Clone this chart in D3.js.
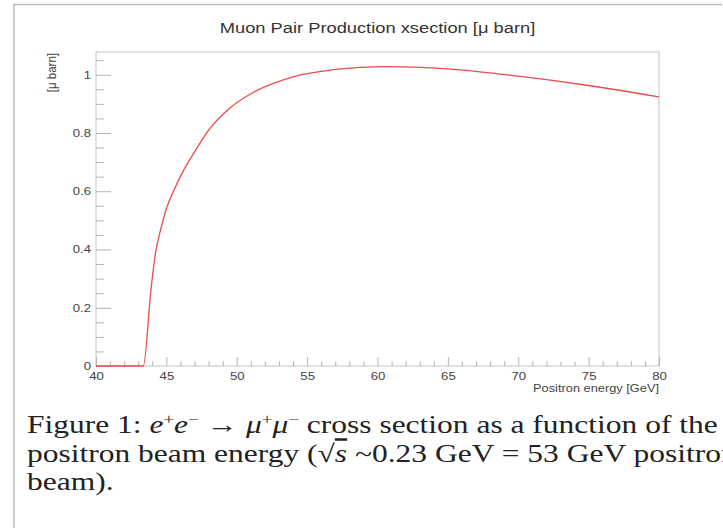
<!DOCTYPE html>
<html>
<head>
<meta charset="utf-8">
<script src="https://cdn.jsdelivr.net/npm/d3@7"></script>
<style>
  body { margin: 0; background: #fff; }
  svg { display: block; }
</style>
</head>
<body>
<div id="chart"></div>
<script>
// values
const energy  = [40, 43.36, 43.9, 44.2, 44.6, 45.0, 45.6, 46.2, 47.0, 48.0, 49.5, 51.2, 52.6, 54, 57, 60.5, 65, 70, 75, 80];
const xsec    = [0, 0, 0.26, 0.38, 0.47, 0.54, 0.61, 0.67, 0.735, 0.81, 0.885, 0.94, 0.97, 0.993, 1.018, 1.028, 1.02, 0.995, 0.963, 0.924];
const xTicks  = [40, 45, 50, 55, 60, 65, 70, 75, 80];
const yTicks  = [0, 0.2, 0.4, 0.6, 0.8, 1];
const yTickLabels = ["0", "0.2", "0.4", "0.6", "0.8", "1"];

const data = energy.map((e, i) => ({e: e, s: xsec[i]}));

const W = 723, H = 528;
const plot = {left: 96, right: 659, top: 52, bottom: 366};
const sans = "Liberation Sans, Arial, sans-serif";

const svg = d3.select("#chart").append("svg")
    .attr("width", W)
    .attr("height", H);

// outer page frame
svg.append("path")
    .attr("d", "M14," + H + "V4.5H722")
    .attr("fill", "none")
    .attr("stroke", "#bdbdbd")
    .attr("stroke-width", 1.5);

const x = d3.scaleLinear().domain([40, 80]).range([plot.left, plot.right]);
const y = d3.scaleLinear().domain([0, 1.078]).range([plot.bottom, plot.top]);

// plot frame
svg.append("rect")
    .attr("x", plot.left)
    .attr("y", plot.top)
    .attr("width", plot.right - plot.left)
    .attr("height", plot.bottom - plot.top)
    .attr("fill", "none")
    .attr("stroke", "#cfcfcf")
    .attr("stroke-width", 1.2);

// minor ticks
const xMinor = d3.range(40, 80.01, 1).filter(v => v % 5 !== 0);
const yMinor = d3.range(0, 1.0701, 0.05).filter(v => Math.abs(v * 5 - Math.round(v * 5)) > 1e-6);

svg.append("g")
    .attr("transform", "translate(0," + plot.bottom + ")")
    .call(d3.axisBottom(x).tickValues(xMinor).tickSize(-5).tickFormat(""))
    .call(g => g.select(".domain").remove())
    .call(g => g.selectAll("line").attr("stroke", "#b5b5b5"));

svg.append("g")
    .attr("transform", "translate(" + plot.left + ",0)")
    .call(d3.axisLeft(y).tickValues(yMinor).tickSize(-8).tickFormat(""))
    .call(g => g.select(".domain").remove())
    .call(g => g.selectAll("line").attr("stroke", "#b5b5b5"));

// major ticks + labels
const xAxis = svg.append("g")
    .attr("transform", "translate(0," + plot.bottom + ")")
    .call(d3.axisBottom(x).tickValues(xTicks).tickSize(-9).tickPadding(0).tickFormat(d3.format("d")));
xAxis.select(".domain").remove();
xAxis.selectAll("line").attr("stroke", "#b5b5b5");
xAxis.selectAll("text")
    .attr("y", 0)
    .attr("dy", 14)
    .attr("transform", "scale(1.15,1)")
    .attr("font-family", sans)
    .attr("font-size", 11.5)
    .attr("fill", "#444");

const yAxis = svg.append("g")
    .attr("transform", "translate(" + plot.left + ",0)")
    .call(d3.axisLeft(y).tickValues(yTicks).tickSize(-15)
        .tickFormat((d, i) => yTickLabels[i]));
yAxis.select(".domain").remove();
yAxis.selectAll("line").attr("stroke", "#b5b5b5");
yAxis.selectAll("text")
    .attr("x", -4)
    .attr("transform", "scale(1.25,1)")
    .attr("font-family", sans)
    .attr("font-size", 10.5)
    .attr("fill", "#444");

// the curve
svg.append("path")
    .datum(data)
    .attr("fill", "none")
    .attr("stroke", "#f04a4a")
    .attr("stroke-width", 1.3)
    .attr("d", d3.line()
        .x(d => x(d.e))
        .y(d => y(d.s))
        .curve(d3.curveMonotoneX));

// title and axis titles
svg.append("text")
    .attr("transform", "translate(" + (plot.left + plot.right) / 2 + ",33) scale(1.22,1)")
    .attr("text-anchor", "middle")
    .attr("font-family", sans)
    .attr("font-size", 15)
    .attr("fill", "#333")
    .text("Muon Pair Production xsection [\u03bc barn]");

svg.append("text")
    .attr("transform", "translate(56," + (plot.top + 1) + ") rotate(-90) scale(1,1.15)")
    .attr("text-anchor", "end")
    .attr("font-family", sans)
    .attr("font-size", 11.5)
    .attr("fill", "#444")
    .text("[\u03bc barn]");

svg.append("text")
    .attr("transform", "translate(" + plot.right + ",392) scale(1.22,1)")
    .attr("text-anchor", "end")
    .attr("font-family", sans)
    .attr("font-size", 10.5)
    .attr("fill", "#444")
    .text("Positron energy [GeV]");

// caption (the figure is stretched sideways a little)
const cap = svg.append("g")
    .attr("transform", "translate(27,0) scale(1.26,1)")
    .append("text")
    .attr("font-family", "Liberation Serif, Times New Roman, serif")
    .attr("font-size", 25)
    .attr("fill", "#222");

const line1 = cap.append("tspan").attr("x", 0).attr("y", 433);
line1.append("tspan").text("Figure 1: ");
line1.append("tspan").attr("font-style", "italic").text("e");
line1.append("tspan").attr("font-size", 15).attr("dy", -9).text("+");
line1.append("tspan").attr("font-style", "italic").attr("dy", 9).text("e");
line1.append("tspan").attr("font-size", 15).attr("dy", -9).text("\u2212");
line1.append("tspan").attr("dy", 9).text(" \u2192 ");
line1.append("tspan").attr("font-style", "italic").text("\u03bc");
line1.append("tspan").attr("font-size", 15).attr("dy", -9).text("+");
line1.append("tspan").attr("font-style", "italic").attr("dy", 9).text("\u03bc");
line1.append("tspan").attr("font-size", 15).attr("dy", -9).text("\u2212");
line1.append("tspan").attr("dy", 9).text("  cross section as a function of the");

const line2 = cap.append("tspan").attr("x", 0).attr("y", 462);
line2.append("tspan").text("positron beam energy (\u221a");
line2.append("tspan").attr("font-style", "italic").attr("text-decoration", "overline").text("s");
line2.append("tspan").text(" ~0.23 GeV = 53 GeV positron");

cap.append("tspan").attr("x", 0).attr("y", 490).text("beam).");
</script>
</body>
</html>
